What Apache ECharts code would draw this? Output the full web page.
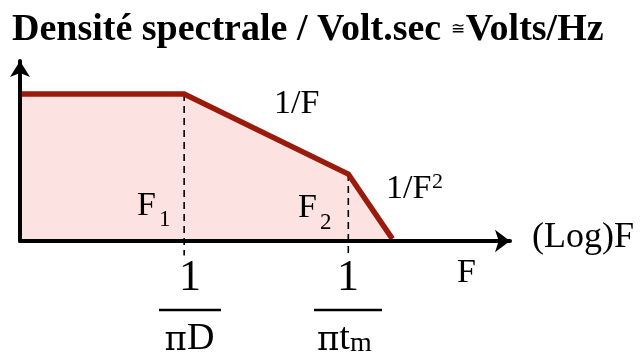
<!DOCTYPE html>
<html>
<head>
<meta charset="utf-8">
<script src="https://cdn.jsdelivr.net/npm/echarts@6/dist/echarts.min.js"></script>
<style>
  html, body { margin: 0; padding: 0; background: #fff; }
  #chart { width: 644px; height: 361px; }
</style>
</head>
<body>
<div id="chart"></div>
<script>
// log F (arbitrary units 0-100) vs spectral density (arbitrary units 0-100)
const logF = [0, 33.5, 67, 76];
const density = [81.7, 81.7, 37.2, 1.2];
const breakF = [33.5, 67];        // F1, F2
const breakLevel = [81.7, 37.2];
const dropTo = -8;                // dashed guides run a little under the axis

const serif = "'Liberation Serif', 'Times New Roman', serif";
const greek = "'DejaVu Serif', serif";
const red = "#9a1b0c";
const pink = "#fde2e2";

const chart = echarts.init(document.getElementById("chart"), null, { renderer: "canvas" });
const curve = logF.map((x, i) => [x, density[i]]);

// plain text helper, y is the middle of the em box
function txt(text, x, y, size, align, rich) {
  return {
    type: "text", x, y, z: 10, silent: true,
    style: {
      text, fill: "#000", font: `${size}px ${serif}`, rich,
      align: align || "left", textAlign: align || "left",
      verticalAlign: "middle", textVerticalAlign: "middle",
    },
  };
}
function bar(x1, x2, y) {
  return {
    type: "line", z: 10, silent: true,
    shape: { x1, y1: y, x2, y2: y },
    style: { stroke: "#000", lineWidth: 2.5 },
  };
}
// tokens for the denominators, line heights chosen so baselines line up
const denomRich = {
  p: { fontFamily: greek, fontSize: 34, lineHeight: 35.5, verticalAlign: "bottom", fill: "#000" },
  r: { fontFamily: serif, fontSize: 38, lineHeight: 37.6, verticalAlign: "bottom", fill: "#000" },
  s: { fontFamily: serif, fontSize: 28, lineHeight: 30.9, verticalAlign: "bottom", fill: "#000" },
};

const axisCommon = {
  type: "value", min: 0, max: 100, z: 5,
  axisTick: { show: false }, axisLabel: { show: false }, splitLine: { show: false },
};

chart.setOption({
  animation: false,
  title: {
    text: "{a|Densité spectrale / Volt.sec }{b|≅}{a|Volts/Hz}",
    left: 12, top: 11, padding: 0,
    textStyle: {
      fontFamily: serif, fontWeight: "bold", fontSize: 38, color: "#000",
      rich: {
        a: { fontFamily: serif, fontWeight: "bold", fontSize: 38, color: "#000" },
        b: { fontFamily: serif, fontWeight: "normal", fontSize: 17, color: "#000", padding: [0, 1, 0, 0] },
      },
    },
  },
  grid: { left: 20, right: 134, top: 61, bottom: 120 },
  xAxis: Object.assign({}, axisCommon, {
    axisLine: { show: true, onZero: false, symbol: ["none", "arrow"], symbolSize: [17, 15],
                lineStyle: { color: "#000", width: 4 } },
  }),
  yAxis: Object.assign({}, axisCommon, {
    axisLine: { show: true, onZero: false, symbol: ["none", "arrow"], symbolSize: [15, 16],
                lineStyle: { color: "#000", width: 4 } },
  }),
  series: [
    {
      type: "line", data: curve, symbol: "none", silent: true, z: 1,
      lineStyle: { opacity: 0 }, areaStyle: { color: pink, opacity: 1 },
    },
    ...breakF.map((x, i) => ({
      type: "line", data: [[x, breakLevel[i]], [x, dropTo]], symbol: "none",
      silent: true, clip: false, z: 2,
      lineStyle: { color: "#000", width: 1.6, type: [7, 5] },
    })),
    {
      type: "line", data: curve, symbol: "none", silent: true, z: 3,
      lineStyle: { color: red, width: 5.5, join: "miter" },
    },
  ],
  graphic: [
    txt("1/F", 274, 104.5, 34),
    txt("1/F", 386, 189, 34),
    txt("2", 432, 182.6, 22),
    txt("F", 137, 206.5, 34),
    txt("1", 159, 219.6, 23),
    txt("F", 298, 208.5, 34),
    txt("2", 320, 222.6, 23),
    txt("(Log)F", 532, 237.8, 36),
    txt("F", 457, 273.5, 34),
    txt("1", 190, 278, 44, "center"),
    bar(159, 221, 310),
    txt("{p|π}{r|D}", 189.5, 339.2, 38, "center", denomRich),
    txt("1", 348, 278, 44, "center"),
    bar(314, 382, 310),
    txt("{p|π}{r|t}{s|m}", 317, 339.2, 38, "left", denomRich),
  ],
});
</script>
</body>
</html>
